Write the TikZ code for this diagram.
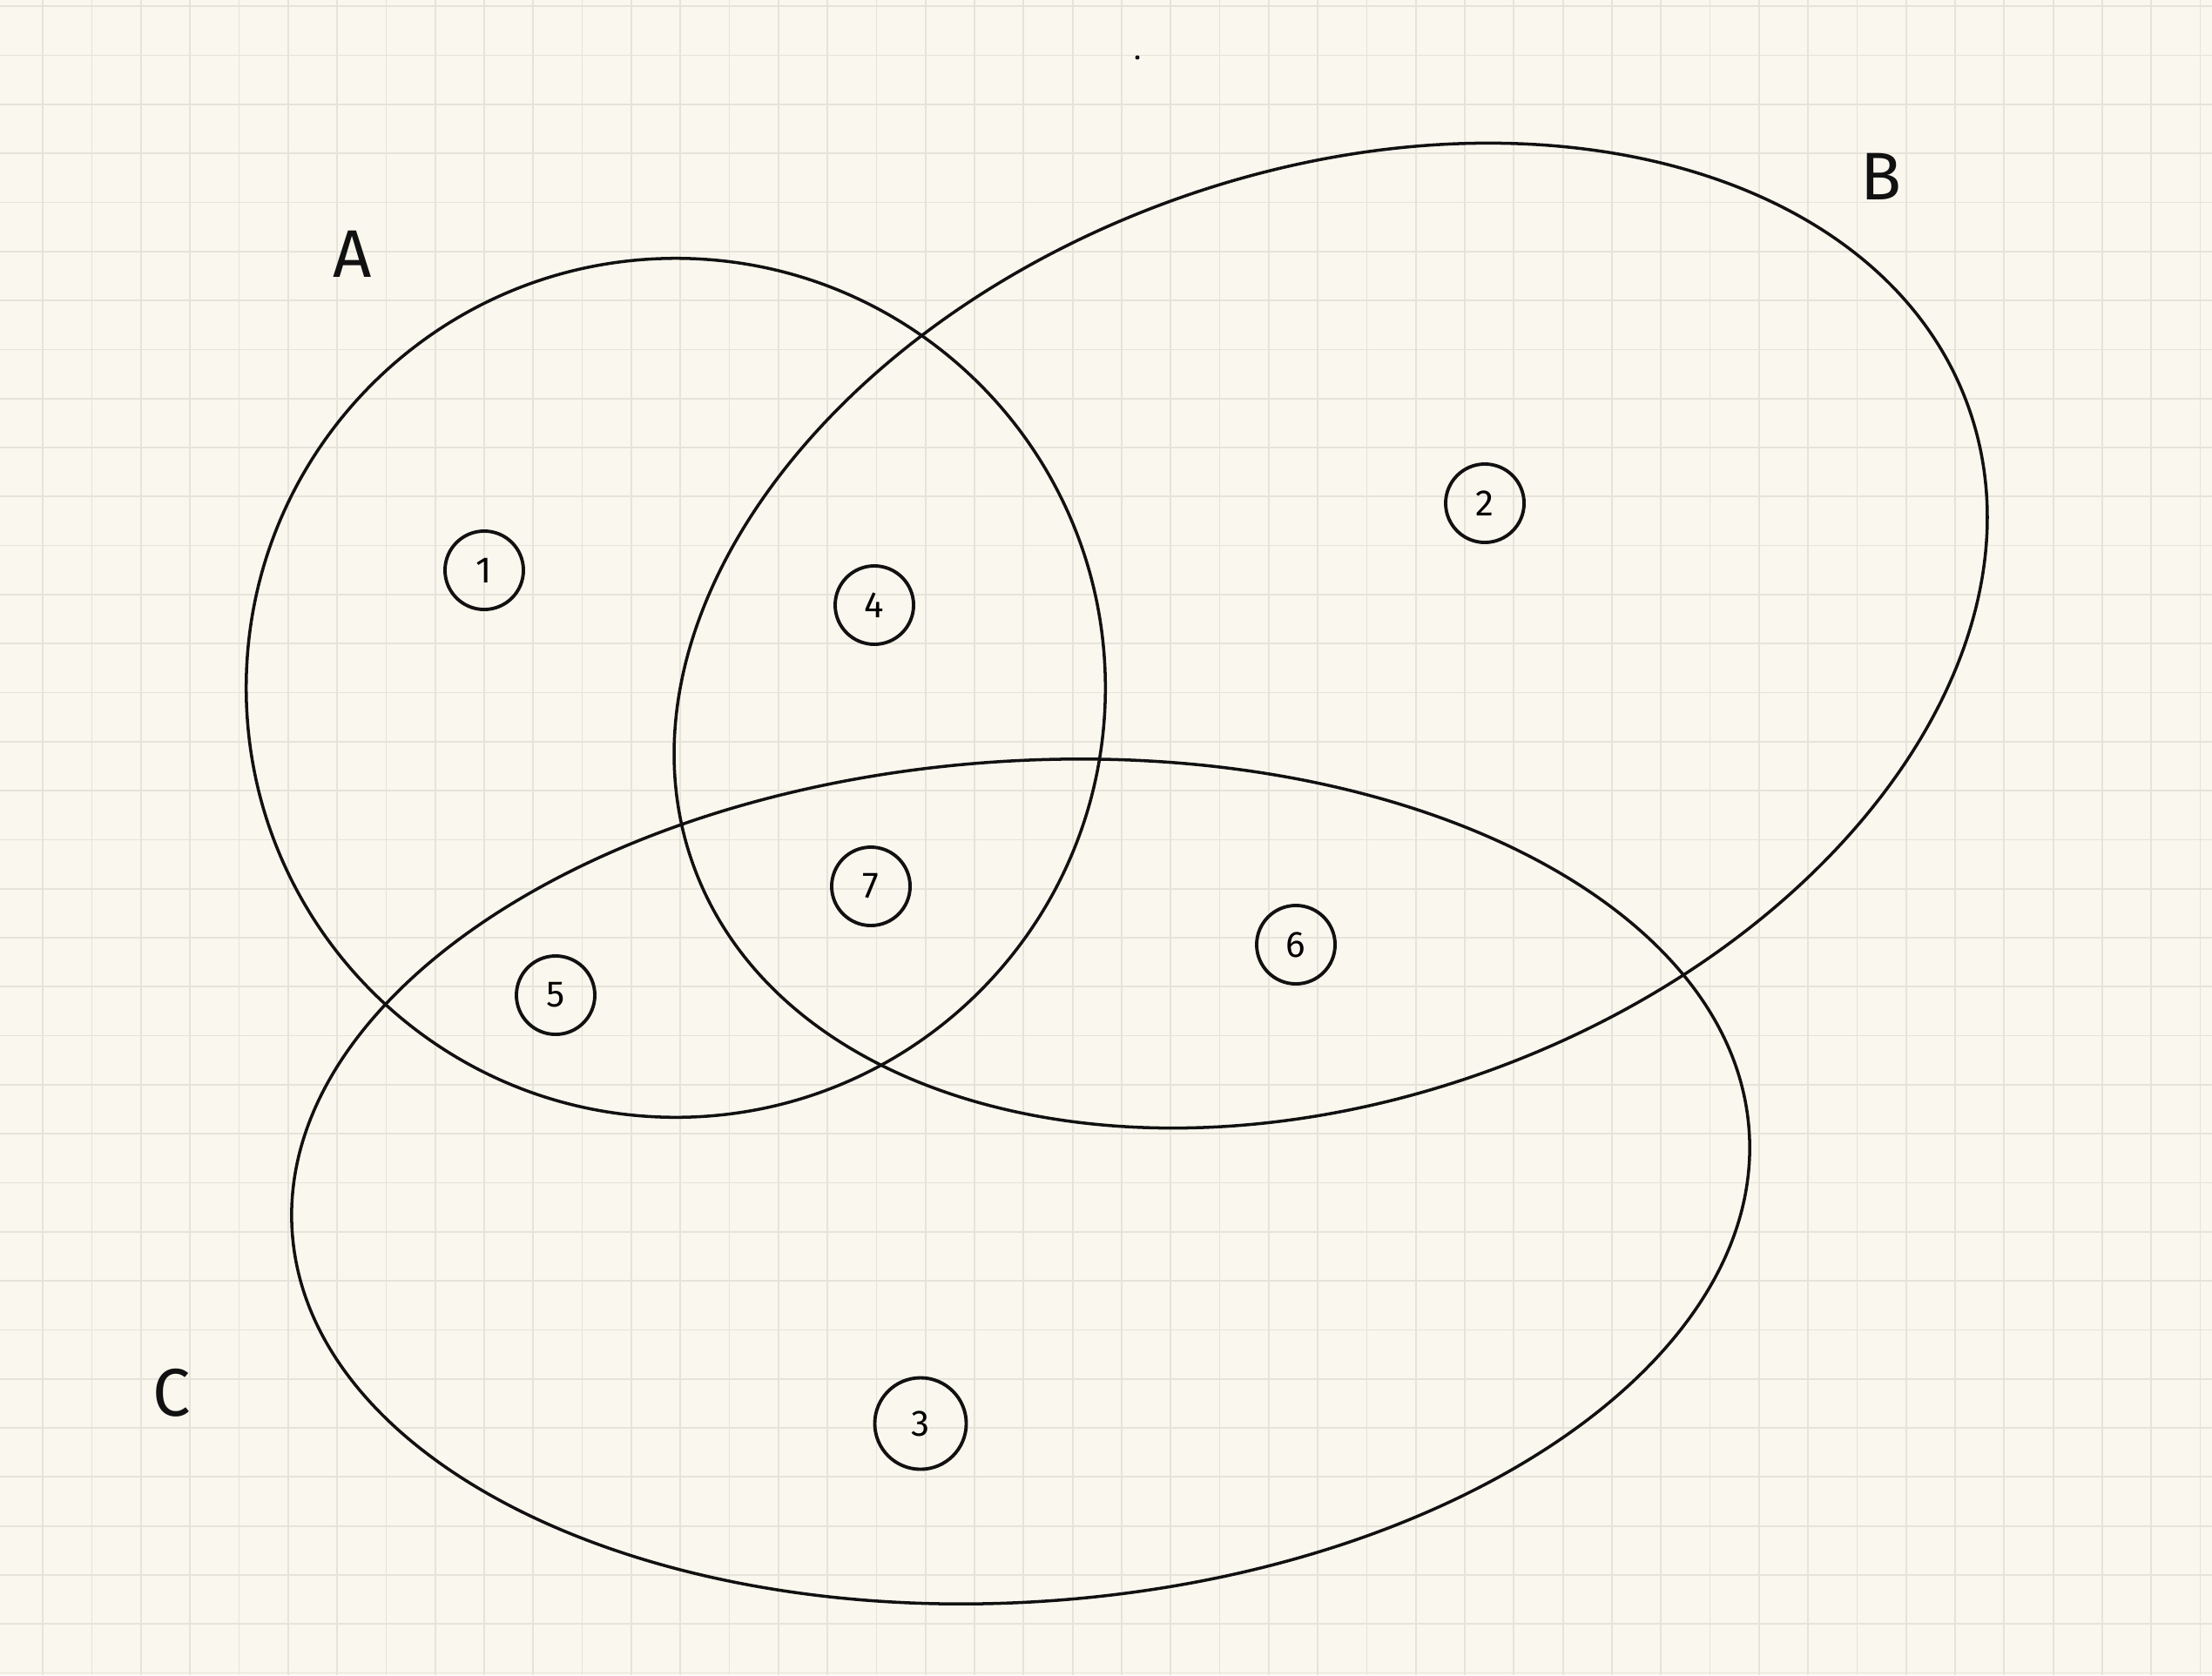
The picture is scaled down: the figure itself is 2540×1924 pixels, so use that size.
\documentclass[tikz,border=0pt]{standalone}
\usepackage{fontspec}
\setmainfont{Fira Sans}
\usepackage{tikz}
\usetikzlibrary{shapes.geometric}
\definecolor{paper}{HTML}{FAF7EE}
\definecolor{paperline}{HTML}{E6E3DA}
\definecolor{ink}{HTML}{111111}

\begin{document}
\begin{tikzpicture}[x=0.01cm,y=-0.01cm,
  setline/.style={draw=ink,line width=1pt,inner sep=0pt},
  regionmark/.style={circle,draw=ink,line width=1.1pt,minimum size=0.9cm,inner sep=0pt,font=\fontsize{12}{14}\selectfont},
  setlabel/.style={font=\fontsize{22}{26}\selectfont,text=ink}]
\useasboundingbox (0,0) rectangle (2540,1924);
\fill[paper] (0,0) rectangle (2540,1924);
% squared paper
\foreach \col in {0,...,44}
  \draw[paperline,line width=0.5pt] ({49.3+56.3*\col},0) -- ({49.3+56.3*\col},1924);
\foreach \row in {0,...,34}
  \draw[paperline,line width=0.5pt] (0,{7.3+56.3*\row}) -- (2540,{7.3+56.3*\row});
\fill[ink] (1306,66) circle[radius=2.5];

% the three sets
\node[setline,circle,minimum size=9.86cm] (setA) at (776,790) {};
\node[setline,ellipse,minimum width=15.55cm,minimum height=10.63cm,rotate=19.8] (setB) at (1528,730) {};
\node[setline,ellipse,minimum width=16.76cm,minimum height=9.65cm,rotate=4] (setC) at (1172,1357) {};

\node[setlabel] (labA) at (405,292) {A};
\node[setlabel] (labB) at (2160,203) {B};
\node[setlabel] (labC) at (197,1600) {C};

% regions
\node[regionmark] (reg1) at (556,655) {1};
\node[regionmark] (reg2) at (1705,578) {2};
\node[regionmark,minimum size=1.05cm] (reg3) at (1057,1635) {3};
\node[regionmark] (reg4) at (1004,695) {4};
\node[regionmark] (reg5) at (638,1143) {5};
\node[regionmark] (reg6) at (1488,1085) {6};
\node[regionmark] (reg7) at (1000,1018) {7};
\end{tikzpicture}
\end{document}
